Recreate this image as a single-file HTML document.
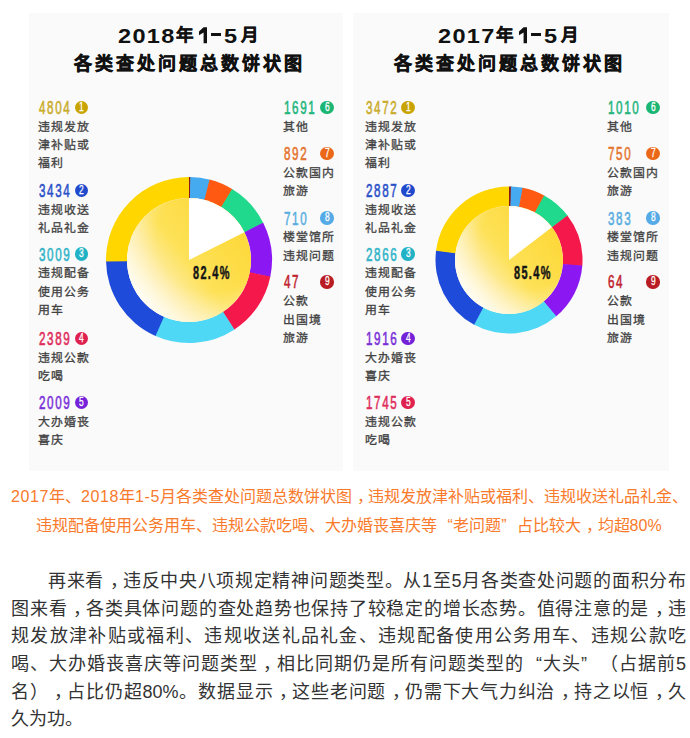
<!DOCTYPE html>
<html lang="zh-CN">
<head>
<meta charset="utf-8">
<style>
html,body{margin:0;padding:0;background:#fff;}
body{width:690px;height:738px;position:relative;overflow:hidden;font-family:"Liberation Sans",sans-serif;}
.a{position:absolute;white-space:nowrap;}
.panel{position:absolute;top:13px;height:458px;background:#fafafa;}
.t1{font-weight:900;color:#111;line-height:1;}
.dg{font-size:21px;letter-spacing:1.2px;transform-origin:0 0;transform:scaleX(1.12);}
.cj{font-size:17.5px;-webkit-text-stroke:0.4px #111;}
.dash{width:10px;height:2.6px;background:#111;}
.t2{font-weight:900;font-size:18px;color:#111;line-height:1;letter-spacing:3.1px;-webkit-text-stroke:0.5px #111;}
.num{font-size:17.6px;line-height:1;letter-spacing:2.5px;-webkit-text-stroke:0.6px currentColor;transform-origin:0 0;transform:scaleX(0.66);}
.c{position:absolute;width:13.4px;height:13.4px;border-radius:50%;color:#fff;font-size:12.4px;line-height:13.4px;text-align:center;}
.c span{display:inline-block;transform:scaleX(0.68);-webkit-text-stroke:0.3px #fff;}
.lt{font-size:11.9px;letter-spacing:0.75px;color:#424242;line-height:17.8px;font-weight:500;-webkit-text-stroke:0.3px #424242;}
.pct{font-weight:bold;font-size:18.7px;line-height:1;color:#151515;letter-spacing:2.3px;-webkit-text-stroke:0.5px #151515;transform-origin:0 0;transform:scaleX(0.585);}
.ql{display:inline-block;width:1em;text-align:right;text-align-last:right;text-indent:0;}
.qr{display:inline-block;width:1em;text-align:left;text-align-last:left;text-indent:0;}
.cm{font-style:normal;position:relative;left:0.3em;}
.dw{font-weight:normal;letter-spacing:0.6px;}
.cap{text-spacing-trim:space-all;font-size:16px;color:#f97a2a;line-height:1;}
.bl{text-spacing-trim:space-all;position:absolute;left:11px;width:675px;font-size:18px;color:#333;line-height:1;text-align:justify;text-align-last:justify;white-space:nowrap;}
</style>
</head>
<body>
<div class="panel" style="left:29px;width:314px;"></div>
<div class="panel" style="left:353px;width:316px;"></div>

<div class="a t1 dg" style="left:118.4px;top:24.5px;">2018</div><div class="a t1 cj" style="left:176.2px;top:27px;">年</div><svg class="a" style="left:198.2px;top:26px" width="11" height="19" viewBox="0 0 11 19"><path d="M5.6,1.3H9V17.2H5.6V6.6L1,9.2V5.6Z" fill="#111"/></svg><div class="a dash" style="left:211.4px;top:33.3px;"></div><div class="a t1 dg" style="left:224.0px;top:24.5px;">5</div><div class="a t1 cj" style="left:241.4px;top:27px;">月</div>
<div class="a t2" style="left:73.5px;top:54.5px;">各类查处问题总数饼状图</div>
<div class="a t1 dg" style="left:438.4px;top:24.5px;">2017</div><div class="a t1 cj" style="left:496.2px;top:27px;">年</div><svg class="a" style="left:518.2px;top:26px" width="11" height="19" viewBox="0 0 11 19"><path d="M5.6,1.3H9V17.2H5.6V6.6L1,9.2V5.6Z" fill="#111"/></svg><div class="a dash" style="left:531.4px;top:33.3px;"></div><div class="a t1 dg" style="left:544.0px;top:24.5px;">5</div><div class="a t1 cj" style="left:561.4px;top:27px;">月</div>
<div class="a t2" style="left:393.5px;top:54.5px;">各类查处问题总数饼状图</div>

<svg class="a" style="left:0;top:0" width="690" height="470" viewBox="0 0 690 470">
<defs><linearGradient id="g18" x1="0.85" y1="0.25" x2="0.1" y2="0.85">
<stop offset="0" stop-color="#fdd93c"/><stop offset="0.45" stop-color="#fde157"/><stop offset="0.74" stop-color="#feeda8"/><stop offset="1" stop-color="#fffcf2"/></linearGradient><linearGradient id="g17" x1="0.85" y1="0.25" x2="0.1" y2="0.85">
<stop offset="0" stop-color="#fdd93c"/><stop offset="0.45" stop-color="#fde157"/><stop offset="0.74" stop-color="#feeda8"/><stop offset="1" stop-color="#fffcf2"/></linearGradient><radialGradient id="rim" cx="0.68" cy="0.32" r="0.8"><stop offset="0.55" stop-color="#fff" stop-opacity="0"/><stop offset="1" stop-color="#fff" stop-opacity="0.6"/></radialGradient></defs>
<path d="M189.00,177.00A83,83 0 0 1 190.87,177.02L190.40,198.02A62,62 0 0 0 189.00,198.00Z" fill="#8a1a1a"/>
<path d="M190.29,177.01A83,83 0 0 1 210.14,179.74L204.79,200.04A62,62 0 0 0 189.96,198.01Z" fill="#46aaf0"/>
<path d="M209.58,179.59A83,83 0 0 1 232.58,189.36L221.55,207.23A62,62 0 0 0 204.37,199.94Z" fill="#ff5912"/>
<path d="M232.08,189.06A83,83 0 0 1 263.43,223.27L244.60,232.56A62,62 0 0 0 221.18,207.01Z" fill="#21d98d"/>
<path d="M263.17,222.75A83,83 0 0 1 270.24,277.02L249.68,272.71A62,62 0 0 0 244.41,232.18Z" fill="#8b17f2"/>
<path d="M270.35,276.45A83,83 0 0 1 234.05,329.71L222.65,312.07A62,62 0 0 0 249.77,272.29Z" fill="#f5194b"/>
<path d="M234.53,329.40A83,83 0 0 1 154.99,335.71L163.60,316.56A62,62 0 0 0 223.01,311.84Z" fill="#4fd8f5"/>
<path d="M155.52,335.95A83,83 0 0 1 106.01,261.01L127.00,260.75A62,62 0 0 0 163.99,316.73Z" fill="#1f4bdb"/>
<path d="M106.02,261.59A83,83 0 0 1 189.00,177.00L189.00,198.00A62,62 0 0 0 127.01,261.18Z" fill="#ffd600"/>
<circle cx="189" cy="260" r="62" fill="url(#g18)"/>
<circle cx="189" cy="260" r="62" fill="url(#rim)"/>
<path d="M189,260L189.00,198.00A62,62 0 0 1 244.42,232.20Z" fill="#fff"/>
<path d="M509.00,186.50A73.5,73.5 0 0 1 511.47,186.54L510.82,206.03A54,54 0 0 0 509.00,206.00Z" fill="#8a1a1a"/>
<path d="M510.96,186.53A73.5,73.5 0 0 1 523.10,187.87L519.36,207.00A54,54 0 0 0 510.44,206.02Z" fill="#46aaf0"/>
<path d="M522.60,187.77A73.5,73.5 0 0 1 544.58,195.68L535.14,212.75A54,54 0 0 0 518.99,206.93Z" fill="#ff5912"/>
<path d="M544.13,195.44A73.5,73.5 0 0 1 567.73,215.81L552.15,227.53A54,54 0 0 0 534.81,212.57Z" fill="#21d98d"/>
<path d="M567.42,215.40A73.5,73.5 0 0 1 582.26,265.98L562.82,264.39A54,54 0 0 0 551.92,227.23Z" fill="#f5194b"/>
<path d="M582.30,265.46A73.5,73.5 0 0 1 555.89,316.60L543.45,301.59A54,54 0 0 0 562.85,264.01Z" fill="#8b17f2"/>
<path d="M556.28,316.27A73.5,73.5 0 0 1 473.68,324.46L483.05,307.35A54,54 0 0 0 543.74,301.34Z" fill="#4fd8f5"/>
<path d="M474.13,324.70A73.5,73.5 0 0 1 436.14,250.30L455.47,252.87A54,54 0 0 0 483.38,307.53Z" fill="#1f4bdb"/>
<path d="M436.08,250.81A73.5,73.5 0 0 1 509.00,186.50L509.00,206.00A54,54 0 0 0 455.42,253.25Z" fill="#ffd600"/>
<circle cx="509" cy="260" r="54" fill="url(#g17)"/>
<circle cx="509" cy="260" r="54" fill="url(#rim)"/>
<path d="M509,260L509.00,206.00A54,54 0 0 1 551.88,227.17Z" fill="#fff"/>
</svg>
<div class="a pct" style="left:193px;top:264px;">82.4%</div>
<div class="a pct" style="left:513.5px;top:264px;">85.4%</div>

<div class="a num" style="left:39px;top:99.8px;color:#caac2c">4804</div>
<div class="c" style="left:74.7px;top:100.7px;background:#c9a400"><span>1</span></div>
<div class="a lt" style="left:38.4px;top:118.6px">违规发放</div>
<div class="a lt" style="left:38.4px;top:137.0px">津补贴或</div>
<div class="a lt" style="left:38.4px;top:155.4px">福利</div>
<div class="a num" style="left:39px;top:182.8px;color:#2a51ca">3434</div>
<div class="c" style="left:74.7px;top:183.7px;background:#2149cc"><span>2</span></div>
<div class="a lt" style="left:38.4px;top:201.6px">违规收送</div>
<div class="a lt" style="left:38.4px;top:220.0px">礼品礼金</div>
<div class="a num" style="left:39px;top:246.5px;color:#2fb4c8">3009</div>
<div class="c" style="left:74.7px;top:247.4px;background:#22b2c6"><span>3</span></div>
<div class="a lt" style="left:38.4px;top:265.3px">违规配备</div>
<div class="a lt" style="left:38.4px;top:283.7px">使用公务</div>
<div class="a lt" style="left:38.4px;top:302.1px">用车</div>
<div class="a num" style="left:39px;top:330.8px;color:#df2d5b">2389</div>
<div class="c" style="left:74.7px;top:331.7px;background:#e0214f"><span>4</span></div>
<div class="a lt" style="left:38.4px;top:349.6px">违规公款</div>
<div class="a lt" style="left:38.4px;top:368.0px">吃喝</div>
<div class="a num" style="left:39px;top:394.9px;color:#7a30d8">2009</div>
<div class="c" style="left:74.7px;top:395.8px;background:#7421d7"><span>5</span></div>
<div class="a lt" style="left:38.4px;top:413.7px">大办婚丧</div>
<div class="a lt" style="left:38.4px;top:432.1px">喜庆</div>
<div class="a num" style="left:284px;top:99.7px;color:#23b57d">1691</div>
<div class="c" style="left:320.3px;top:100.6px;background:#1bb574"><span>6</span></div>
<div class="a lt" style="left:283.4px;top:118.5px">其他</div>
<div class="a num" style="left:284px;top:146.0px;color:#e4742e">892</div>
<div class="c" style="left:320.3px;top:146.9px;background:#ea6818"><span>7</span></div>
<div class="a lt" style="left:283.4px;top:164.8px">公款国内</div>
<div class="a lt" style="left:283.4px;top:183.2px">旅游</div>
<div class="a num" style="left:284px;top:210.5px;color:#5aaee0">710</div>
<div class="c" style="left:320.3px;top:211.4px;background:#56abe6"><span>8</span></div>
<div class="a lt" style="left:283.4px;top:229.3px">楼堂馆所</div>
<div class="a lt" style="left:283.4px;top:247.7px">违规问题</div>
<div class="a num" style="left:284px;top:274.4px;color:#c0232e">47</div>
<div class="c" style="left:320.3px;top:275.3px;background:#b91c22"><span>9</span></div>
<div class="a lt" style="left:283.4px;top:293.2px">公款</div>
<div class="a lt" style="left:283.4px;top:311.6px">出国境</div>
<div class="a lt" style="left:283.4px;top:330.0px">旅游</div>
<div class="a num" style="left:366px;top:99.8px;color:#caac2c">3472</div>
<div class="c" style="left:401.3px;top:100.7px;background:#c9a400"><span>1</span></div>
<div class="a lt" style="left:365.4px;top:118.6px">违规发放</div>
<div class="a lt" style="left:365.4px;top:137.0px">津补贴或</div>
<div class="a lt" style="left:365.4px;top:155.4px">福利</div>
<div class="a num" style="left:366px;top:182.8px;color:#2a51ca">2887</div>
<div class="c" style="left:401.3px;top:183.7px;background:#2149cc"><span>2</span></div>
<div class="a lt" style="left:365.4px;top:201.6px">违规收送</div>
<div class="a lt" style="left:365.4px;top:220.0px">礼品礼金</div>
<div class="a num" style="left:366px;top:246.5px;color:#2fb4c8">2866</div>
<div class="c" style="left:401.3px;top:247.4px;background:#22b2c6"><span>3</span></div>
<div class="a lt" style="left:365.4px;top:265.3px">违规配备</div>
<div class="a lt" style="left:365.4px;top:283.7px">使用公务</div>
<div class="a lt" style="left:365.4px;top:302.1px">用车</div>
<div class="a num" style="left:366px;top:330.8px;color:#7a30d8">1916</div>
<div class="c" style="left:401.3px;top:331.7px;background:#7421d7"><span>4</span></div>
<div class="a lt" style="left:365.4px;top:349.6px">大办婚丧</div>
<div class="a lt" style="left:365.4px;top:368.0px">喜庆</div>
<div class="a num" style="left:366px;top:394.9px;color:#df2d5b">1745</div>
<div class="c" style="left:401.3px;top:395.8px;background:#e0214f"><span>5</span></div>
<div class="a lt" style="left:365.4px;top:413.7px">违规公款</div>
<div class="a lt" style="left:365.4px;top:432.1px">吃喝</div>
<div class="a num" style="left:608px;top:99.7px;color:#23b57d">1010</div>
<div class="c" style="left:646.3px;top:100.6px;background:#1bb574"><span>6</span></div>
<div class="a lt" style="left:607.4px;top:118.5px">其他</div>
<div class="a num" style="left:608px;top:146.0px;color:#e4742e">750</div>
<div class="c" style="left:646.3px;top:146.9px;background:#ea6818"><span>7</span></div>
<div class="a lt" style="left:607.4px;top:164.8px">公款国内</div>
<div class="a lt" style="left:607.4px;top:183.2px">旅游</div>
<div class="a num" style="left:608px;top:210.5px;color:#5aaee0">383</div>
<div class="c" style="left:646.3px;top:211.4px;background:#56abe6"><span>8</span></div>
<div class="a lt" style="left:607.4px;top:229.3px">楼堂馆所</div>
<div class="a lt" style="left:607.4px;top:247.7px">违规问题</div>
<div class="a num" style="left:608px;top:274.4px;color:#c0232e">64</div>
<div class="c" style="left:646.3px;top:275.3px;background:#b91c22"><span>9</span></div>
<div class="a lt" style="left:607.4px;top:293.2px">公款</div>
<div class="a lt" style="left:607.4px;top:311.6px">出国境</div>
<div class="a lt" style="left:607.4px;top:330.0px">旅游</div>

<div class="a cap" style="left:11px;top:489px;letter-spacing:0px;"><b class="dw">2017</b>年、<b class="dw">2018</b>年<b class="dw">1-5</b>月各类查处问题总数饼状图<i class="cm">，</i>违规发放津补贴或福利、违规收送礼品礼金、</div>
<div class="a cap" style="left:35.5px;top:517.5px;letter-spacing:0.06px;">违规配备使用公务用车、违规公款吃喝、大办婚丧喜庆等<span class="ql">“</span>老问题<span class="qr">”</span>占比较大<i class="cm">，</i>均超80%</div>

<div class="bl" style="top:571.5px;padding-left:37px;width:638px;">再来看<i class="cm">，</i>违反中央八项规定精神问题类型。从1至5月各类查处问题的面积分布</div>
<div class="bl" style="top:599.5px;">图来看<i class="cm">，</i>各类具体问题的查处趋势也保持了较稳定的增长态势。值得注意的是<i class="cm">，</i>违</div>
<div class="bl" style="top:627.3px;">规发放津补贴或福利、违规收送礼品礼金、违规配备使用公务用车、违规公款吃</div>
<div class="bl" style="top:654.8px;">喝、大办婚丧喜庆等问题类型<i class="cm">，</i>相比同期仍是所有问题类型的<span class="ql">“</span>大头<span class="qr">”</span>（占据前5</div>
<div class="bl" style="top:682.5px;">名）<i class="cm">，</i>占比仍超80%。数据显示<i class="cm">，</i>这些老问题<i class="cm">，</i>仍需下大气力纠治<i class="cm">，</i>持之以恒<i class="cm">，</i>久</div>
<div class="bl" style="top:710px;text-align-last:left;">久为功。</div>
</body>
</html>
